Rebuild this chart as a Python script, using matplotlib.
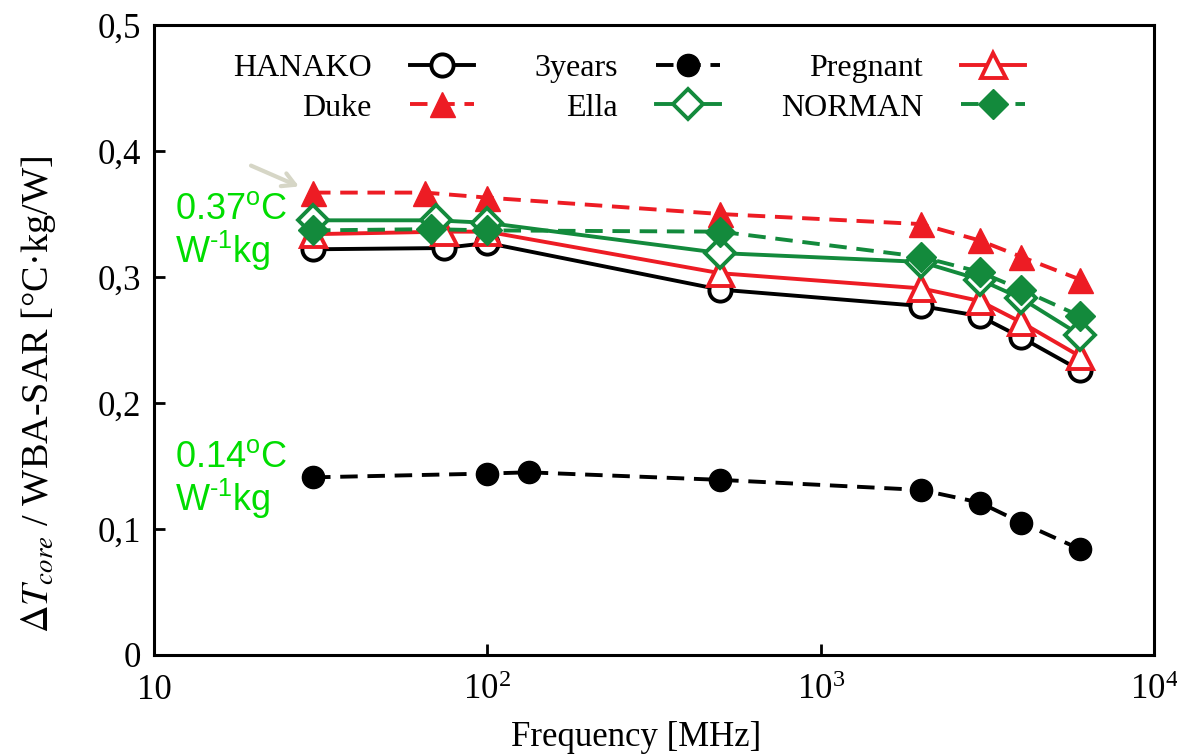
import numpy as np
import matplotlib.pyplot as plt

plt.rcParams['font.family'] = ['Liberation Serif', 'DejaVu Serif']
plt.rcParams['mathtext.fontset'] = 'custom'
plt.rcParams['mathtext.rm'] = 'Liberation Sans'
plt.rcParams['mathtext.it'] = 'Liberation Sans:italic'

# frequencies [MHz] and dT_core / WBA-SAR values
freq_hanako = [30, 74, 100, 500, 2000, 3000, 4000, 6000]
val_hanako = [0.322, 0.323, 0.327, 0.290, 0.277, 0.269, 0.252, 0.226]

freq_3years = [30, 100, 133, 500, 2000, 3000, 4000, 6000]
val_3years = [0.141, 0.144, 0.145, 0.139, 0.131, 0.121, 0.105, 0.084]

freq_pregnant = [30, 74, 100, 500, 2000, 3000, 4000, 6000]
val_pregnant = [0.334, 0.336, 0.336, 0.303, 0.291, 0.281, 0.264, 0.237]

freq_duke = [30, 65, 100, 500, 2000, 3000, 4000, 6000]
val_duke = [0.367, 0.367, 0.363, 0.350, 0.342, 0.329, 0.316, 0.298]

freq_ella = [30, 70, 100, 500, 2000, 3000, 4000, 6000]
val_ella = [0.345, 0.345, 0.343, 0.319, 0.312, 0.298, 0.283, 0.254]

freq_norman = [30, 68, 100, 500, 2000, 3000, 4000, 6000]
val_norman = [0.337, 0.338, 0.337, 0.336, 0.316, 0.304, 0.290, 0.269]

red = '#ed1c24'
green = '#138a3c'
dash = (0, (4.5, 2.5))

fig = plt.figure(figsize=(11.77, 7.56), dpi=100)
ax = fig.add_axes([0.1308, 0.1336, 0.8497, 0.8333])

lw = 2.8
ax.plot(freq_hanako, val_hanako, color='black', lw=lw, marker='o', ms=16,
        mfc='white', mec='black', mew=2.8, label='HANAKO')
ax.plot(freq_3years, val_3years, color='black', lw=lw, ls=dash, marker='o', ms=16,
        mfc='black', mec='black', label='3years')
ax.plot(freq_pregnant, val_pregnant, color=red, lw=lw, marker='^', ms=18,
        mfc='white', mec=red, mew=2.8, label='Pregnant')
ax.plot(freq_duke, val_duke, color=red, lw=lw, ls=dash, marker='^', ms=18,
        mfc=red, mec=red, label='Duke')
ax.plot(freq_ella, val_ella, color=green, lw=lw, marker='D', ms=15,
        mfc='white', mec=green, mew=2.8, label='Ella')
ax.plot(freq_norman, val_norman, color=green, lw=lw, ls=dash, marker='D', ms=15,
        mfc=green, mec=green, label='NORMAN')

ax.set_xscale('log')
ax.set_xlim(10, 1e4)
ax.set_ylim(0, 0.5)
ax.set_xticks([10, 100, 1000, 10000])
ax.set_xticklabels(['10', r'$\mathdefault{10^{2}}$', r'$\mathdefault{10^{3}}$',
                    r'$\mathdefault{10^{4}}$'])
ax.minorticks_off()
yt = [0, 0.1, 0.2, 0.3, 0.4, 0.5]
ax.set_yticks(yt)
ax.set_yticklabels(['0', '0,1', '0,2', '0,3', '0,4', '0,5'])
ax.tick_params(direction='in', length=8, width=2, labelsize=25)
ax.tick_params(axis='x', pad=14)
ax.tick_params(axis='y', pad=9)
for s in ax.spines.values():
    s.set_linewidth(2.2)

ax.set_xlabel('Frequency [MHz]', fontsize=25)
ax.xaxis.set_label_coords(0.482, -0.105)
ax.set_ylabel(r'$\Delta T_{core}$ / WBA-SAR [°C·kg/W]', fontsize=27.5,
              math_fontfamily='stix')
ax.yaxis.set_label_coords(-0.096, 0.413)

h, l = ax.get_legend_handles_labels()
order = [0, 3, 1, 4, 2, 5]
ax.legend([h[i] for i in order], [l[i] for i in order], ncol=3, loc='upper center',
          bbox_to_anchor=(0.475, 0.99), frameon=False, markerfirst=False,
          fontsize=23, handlelength=2.0, handletextpad=1.2, columnspacing=1.9,
          labelspacing=0.32, borderpad=0.2)

green_txt = '#00dd00'
ax.text(0.021, 0.67, '0.37$^{\\mathrm{o}}$C\nW$^{\\mathrm{\u20101}}$kg', transform=ax.transAxes,
        color=green_txt, fontsize=26, family='Liberation Sans', va='center', ha='left',
        linespacing=1.05)
ax.text(0.021, 0.277, '0.14$^{\\mathrm{o}}$C\nW$^{\\mathrm{\u20101}}$kg', transform=ax.transAxes,
        color=green_txt, fontsize=26, family='Liberation Sans', va='center', ha='left',
        linespacing=1.05)

ax.annotate('', xy=(freq_duke[0], val_duke[0]), xytext=(-62, 27),
            textcoords='offset pixels',
            arrowprops=dict(arrowstyle='->,head_length=0.9,head_width=0.5',
                            color='#d6d6c6', lw=3, shrinkA=0, shrinkB=11))

fig.savefig('out.png', dpi=100)
